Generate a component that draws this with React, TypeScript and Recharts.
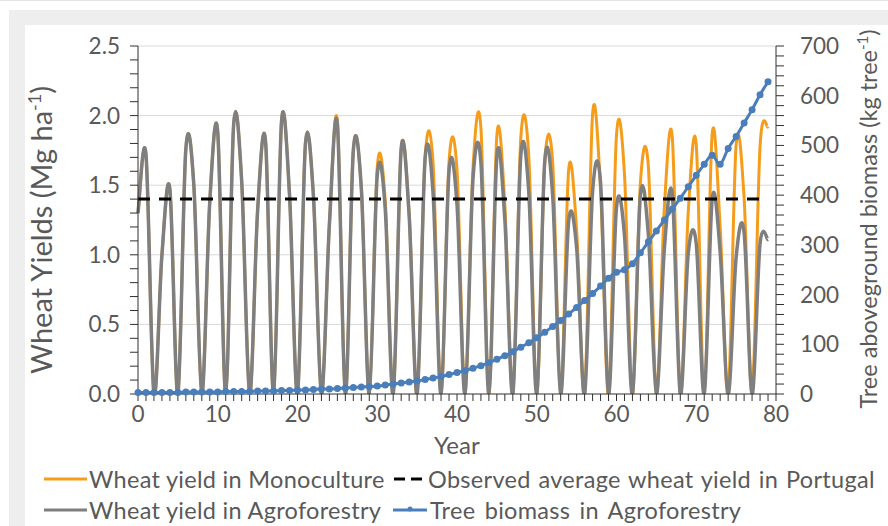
import React from "react";
import { LineChart, Line, XAxis, YAxis, ReferenceLine } from "recharts";

// yearly values
const years = Array.from({ length: 80 }, (_, i) => i);

const monoculture = [
  1.3, 1.72, 0, 1.0, 1.47, 0, 1.76, 1.5, 0, 1.38, 1.88, 0, 1.94, 1.53, 0, 1.32, 1.81, 0,
  1.96, 1.43, 0, 1.8, 1.42, 0, 1.22, 1.96, 0, 1.75, 1.48, 0, 1.63, 1.39, 0, 1.76, 1.3, 0,
  1.7, 1.66, 0, 1.67, 1.61, 0, 1.62, 1.91, 0, 1.86, 1.36, 0, 1.84, 1.71, 0, 1.66, 1.66, 0,
  1.61, 1.18, 0, 2.01, 1.47, 0, 1.86, 1.58, 0, 1.52, 1.63, 0, 1.34, 1.84, 0, 1.31, 1.79, 0,
  1.87, 1.2, 0, 1.79, 1.41, 0, 1.78, 1.92,
];

const agroforestry = [
  1.3, 1.72, 0, 1.0, 1.47, 0, 1.76, 1.5, 0, 1.38, 1.88, 0, 1.94, 1.53, 0, 1.32, 1.81, 0,
  1.96, 1.43, 0, 1.8, 1.42, 0, 1.22, 1.94, 0, 1.75, 1.48, 0, 1.57, 1.33, 0, 1.76, 1.28, 0,
  1.69, 1.44, 0, 1.6, 1.36, 0, 1.54, 1.66, 0, 1.71, 1.25, 0, 1.71, 1.45, 0, 1.67, 1.42, 0,
  1.24, 1.05, 0, 1.45, 1.52, 0, 1.34, 1.14, 0, 1.43, 1.14, 0, 1.04, 1.43, 0, 1.01, 1.08, 0,
  1.4, 1.02, 0, 0.98, 1.16, 0, 1.08, 1.11,
];

const treeBiomass = [
  3, 3, 3, 3, 3, 3, 4, 4, 4, 4, 4, 5, 5, 5, 5, 6, 6, 6, 7, 7,
  8, 8, 9, 10, 10, 11, 12, 13, 14, 15, 16, 18, 20, 22, 24, 26, 29, 32, 35, 39,
  43, 47, 52, 57, 63, 70, 77, 85, 94, 103, 113, 124, 136, 148, 161, 174, 188, 202, 217, 233,
  245, 250, 262, 284, 306, 328, 350, 372, 394, 417, 440, 462, 480, 462, 494, 518, 545, 572, 602, 628,
];

const observedAverage = 1.4;

const xTicks = Array.from({ length: 81 }, (_, i) => i);
const leftTicks = Array.from({ length: 26 }, (_, i) => Math.round(i * 10) / 100);
const leftGrid = [0.5, 1.0, 1.5, 2.0, 2.5];
const rightTicks = Array.from({ length: 36 }, (_, i) => i * 20);

const data = years.map((year, i) => ({
  year,
  mono: monoculture[i],
  agro: agroforestry[i],
  observed: observedAverage,
  biomass: treeBiomass[i],
}));

// Excel-style smoothed line (catmull-rom through every point)
const excelSmooth = (ctx: any) => {
  let pts: number[][] = [];
  return {
    areaStart() {},
    areaEnd() {},
    lineStart() {
      pts = [];
    },
    point(x: number, y: number) {
      pts.push([+x, +y]);
    },
    lineEnd() {
      const n = pts.length;
      if (!n) return;
      ctx.moveTo(pts[0][0], pts[0][1]);
      for (let i = 0; i < n - 1; i++) {
        const p0 = pts[Math.max(0, i - 1)];
        const p1 = pts[i];
        const p2 = pts[i + 1];
        const p3 = pts[Math.min(n - 1, i + 2)];
        ctx.bezierCurveTo(
          p1[0] + (p2[0] - p0[0]) / 6,
          p1[1] + (p2[1] - p0[1]) / 6,
          p2[0] - (p3[0] - p1[0]) / 6,
          p2[1] - (p3[1] - p1[1]) / 6,
          p2[0],
          p2[1]
        );
      }
    },
  };
};

const FONT = "Lato, 'Open Sans', sans-serif";
const TEXT = "#595959";
const AXIS = "#303030";

const leftTitle = () => (
  <text
    transform="translate(52,230) rotate(-90)"
    textAnchor="middle"
    fontFamily={FONT}
    fontSize={29}
    fill={TEXT}
  >
    Wheat Yields (Mg ha
    <tspan dy={-11} fontSize={18}>-1</tspan>
    <tspan dy={11}>)</tspan>
  </text>
);

const rightTitle = () => (
  <text
    transform="translate(877,219) rotate(-90)"
    textAnchor="middle"
    fontFamily={FONT}
    fontSize={23.5}
    fill={TEXT}
  >
    Tree aboveground biomass (kg tree
    <tspan dy={-9} fontSize={15}>-1</tspan>
    <tspan dy={9}>)</tspan>
  </text>
);

const legendText: React.CSSProperties = {
  position: "absolute",
  fontFamily: FONT,
  fontSize: 23.5,
  letterSpacing: 0.3,
  color: TEXT,
  whiteSpace: "nowrap",
  lineHeight: "26px",
};

export default function App() {
  return (
    <div style={{ position: "fixed", left: 0, top: 0, width: 888, height: 526, background: "#fff", overflow: "hidden" }}>
      <div style={{ position: "absolute", left: 0, top: 0, width: 888, height: 1, background: "#e6e6e6" }} />
      <div style={{ position: "absolute", left: 9, top: 10, width: 879, height: 516, background: "#eeeeee" }} />
      <div style={{ position: "absolute", left: 25, top: 25, width: 863, height: 501, background: "#ffffff" }} />

      <div style={{ position: "absolute", left: 0, top: 0 }}>
        <LineChart width={888} height={526} data={data} margin={{ top: 46, right: 0, bottom: 92, left: 0 }}>
          <XAxis
            dataKey="year"
            type="number"
            domain={[0, 80]}
            ticks={xTicks}
            interval={0}
            tickFormatter={(v: number) => (v % 10 === 0 ? String(v) : "")}
            height={40}
            stroke={AXIS}
            tickSize={7}
            tickMargin={5}
            tick={{ fill: TEXT, fontSize: 22.5, fontFamily: FONT }}
          />
          <YAxis
            yAxisId="left"
            domain={[0, 2.5]}
            allowDataOverflow
            ticks={leftTicks}
            interval={0}
            width={138}
            tickFormatter={(v: number) => (Math.abs(v * 2 - Math.round(v * 2)) < 1e-6 ? v.toFixed(1) : "")}
            stroke={AXIS}
            tickSize={8}
            tickMargin={10}
            tick={{ fill: TEXT, fontSize: 22.5, fontFamily: FONT }}
            label={{ content: leftTitle }}
          />
          <YAxis
            yAxisId="right"
            orientation="right"
            domain={[0, 700]}
            ticks={rightTicks}
            interval={0}
            width={112}
            tickFormatter={(v: number) => (v % 100 === 0 ? String(v) : "")}
            stroke={AXIS}
            tickSize={8}
            tickMargin={16}
            tick={{ fill: TEXT, fontSize: 22.5, fontFamily: FONT, textAnchor: "start" }}
            label={{ content: rightTitle }}
          />
          {leftGrid.map((v) => (
            <ReferenceLine key={v} yAxisId="left" y={v} stroke="#d9d9d9" strokeWidth={1} />
          ))}
          <Line yAxisId="left" dataKey="mono" type={excelSmooth as any} stroke="#f59c1a" strokeWidth={3} dot={false} isAnimationActive={false} />
          <Line yAxisId="left" dataKey="agro" type={excelSmooth as any} stroke="#7f7f7f" strokeWidth={3.5} dot={false} isAnimationActive={false} />
          <Line yAxisId="left" dataKey="observed" type="linear" stroke="#000" strokeWidth={3} strokeDasharray="12 9" dot={false} isAnimationActive={false} />
          <Line
            yAxisId="right"
            dataKey="biomass"
            type={excelSmooth as any}
            stroke="#4a7ebb"
            strokeWidth={3}
            dot={{ r: 3.5, fill: "#4a7ebb", stroke: "#4a7ebb", strokeWidth: 0 }}
            isAnimationActive={false}
          />
        </LineChart>
      </div>

      <div style={{ ...legendText, left: 434, top: 432, fontSize: 24, letterSpacing: 0 }}>Year</div>

      <svg style={{ position: "absolute", left: 0, top: 462 }} width={888} height={64}>
        <line x1={44} x2={87} y1={17} y2={17} stroke="#f59c1a" strokeWidth={3} />
        <line x1={394} x2={405} y1={17} y2={17} stroke="#000" strokeWidth={3} />
        <line x1={411} x2={422} y1={17} y2={17} stroke="#000" strokeWidth={3} />
        <line x1={44} x2={87} y1={48} y2={48} stroke="#7f7f7f" strokeWidth={3} />
        <line x1={393} x2={427} y1={48} y2={48} stroke="#4a7ebb" strokeWidth={3} />
        <circle cx={410} cy={47} r={2.5} fill="#4a7ebb" />
      </svg>
      <div style={{ ...legendText, left: 89, top: 466 }}>Wheat yield in Monoculture</div>
      <div style={{ ...legendText, left: 428, top: 466, wordSpacing: 1.5 }}>Observed average wheat yield in Portugal</div>
      <div style={{ ...legendText, left: 89, top: 497 }}>Wheat yield in Agroforestry</div>
      <div style={{ ...legendText, left: 430, top: 497, wordSpacing: 3 }}>Tree biomass in Agroforestry</div>
    </div>
  );
}
